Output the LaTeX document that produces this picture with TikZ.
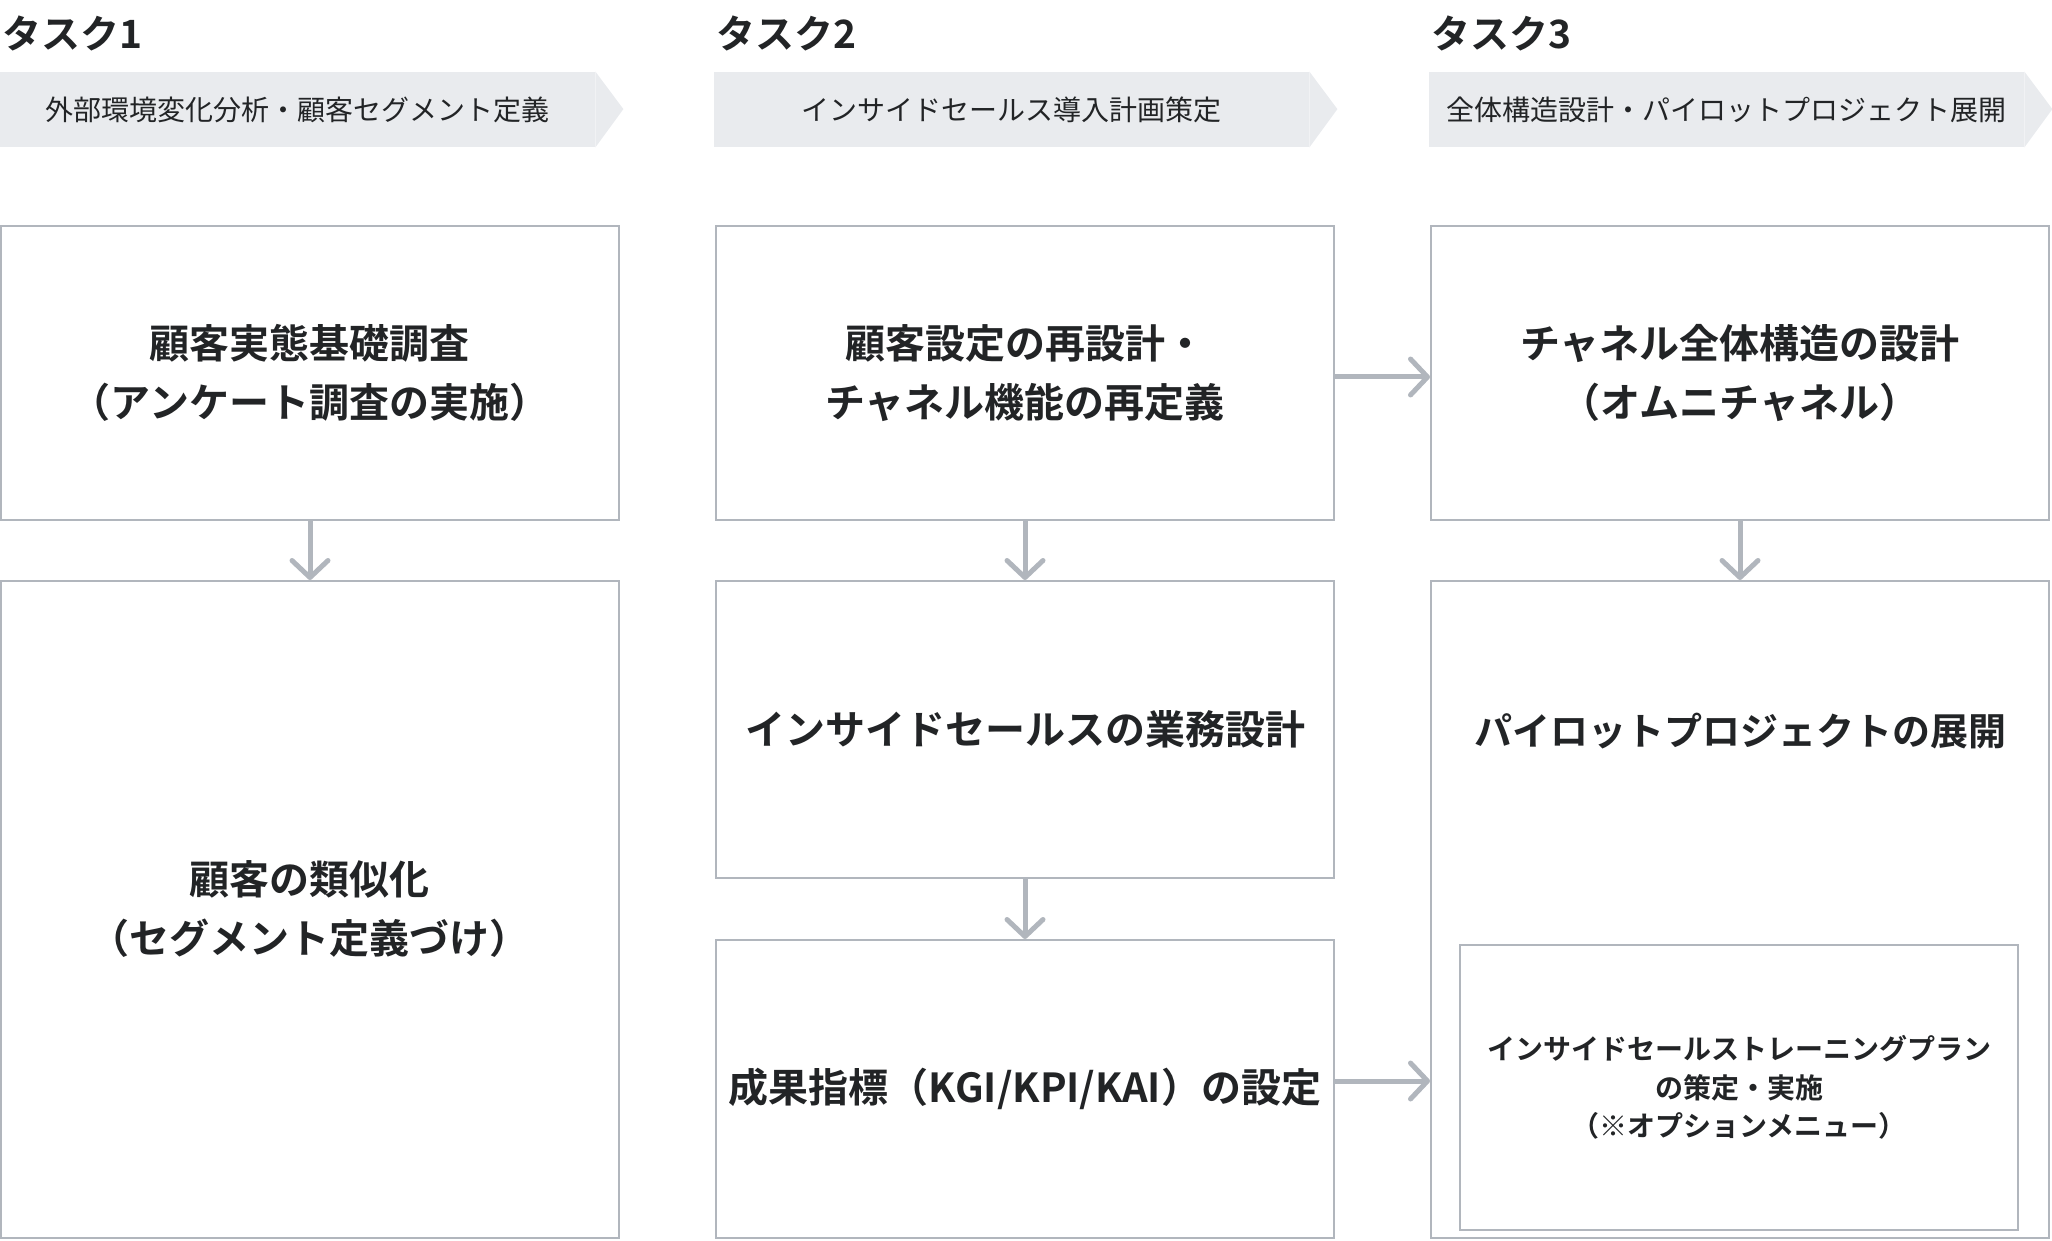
\documentclass[tikz,border=0pt]{standalone}
\usepackage{fontspec}
\setmainfont{Noto Sans CJK JP}[BoldFont={Noto Sans CJK JP Bold}]
\usetikzlibrary{arrows.meta,positioning}
\definecolor{linea}{HTML}{B1B6BD}
\definecolor{banda}{HTML}{E9EBEE}
\definecolor{tinta}{HTML}{222426}
\tikzset{
  titulo/.style={anchor=west, inner sep=0pt, text=tinta,
    font=\fontsize{19.5}{23}\selectfont\bfseries},
  cinta/.style={fill=banda, inner sep=0pt, minimum width=297.5pt,
    minimum height=37.5pt, text=tinta, font=\fontsize{14}{17}\selectfont},
  caja/.style={draw=linea, line width=1pt, fill=white, inner sep=0pt,
    minimum width=309pt, align=center, text=tinta,
    font=\fontsize{20}{29.5}\selectfont\bfseries},
  flecha/.style={draw=linea, line width=2.5pt,
    -{Straight Barb[length=8.5pt,width=18pt,round]}},
}
\begin{document}
\begin{tikzpicture}[x=0.5pt,y=-0.5pt]
    \useasboundingbox (0,0) rectangle (2052,1241);

    % cabeceras de las tres tareas
    \node[titulo] (n1) at (2,33) {タスク1};
    \node[titulo] (n2) at (716,33) {タスク2};
    \node[titulo] (n3) at (1431,33) {タスク3};
    \foreach \i/\x/\txt in {1/0/外部環境変化分析・顧客セグメント定義,
                            2/714/インサイドセールス導入計画策定,
                            3/1429/全体構造設計・パイロットプロジェクト展開} {
        \node[cinta] (b\i) at (\x+297.5,109.5) {\txt};
        \fill[banda] (b\i.north east) -- ++(28,37.5) -- (b\i.south east) -- cycle;
    }

    % tarea 1
    \node[caja, minimum height=147pt] (t1a) at (310,373)
        {顧客実態基礎調査\\（アンケート調査の実施）};
    \node[caja, minimum height=328.5pt] (t1b) at (310,909.5)
        {顧客の類似化\\（セグメント定義づけ）};

    % tarea 2
    \node[caja, minimum height=147pt] (t2a) at (1025,373)
        {顧客設定の再設計・\\チャネル機能の再定義};
    \node[caja, minimum height=148.5pt] (t2b) at (1025,729.5)
        {インサイドセールスの業務設計};
    \node[caja, minimum height=149pt] (t2c) at (1025,1089)
        {成果指標（KGI/KPI/KAI）の設定};

    % tarea 3
    \node[caja, minimum height=147pt] (t3a) at (1740,373)
        {チャネル全体構造の設計\\（オムニチャネル）};
    \node[caja, minimum height=328.5pt] (t3b) at (1740,909.5) {};
    \node[text=tinta, font=\fontsize{19}{28}\selectfont\bfseries] (t3t) at (1740,731)
        {パイロットプロジェクトの展開};
    \node[caja, minimum width=279pt, minimum height=142.5pt,
          font=\fontsize{14}{19.3}\selectfont\bfseries] (t3c) at (1739,1087.5)
        {インサイドセールストレーニングプラン\\の策定・実施\\（※オプションメニュー）};

    % flechas
    \draw[flecha] (t1a) -- (t1b);
    \draw[flecha] (t2a) -- (t2b);
    \draw[flecha] (t2b) -- (t2c);
    \draw[flecha] (t3a) -- (t3b);
    \draw[flecha] ([yshift=-2pt]t2a.east) -- ([yshift=-2pt]t2a.east -| t3a.west);
    \draw[flecha] ([yshift=4pt]t2c.east) -- ([yshift=4pt]t2c.east -| t3b.west);
\end{tikzpicture}
\end{document}
